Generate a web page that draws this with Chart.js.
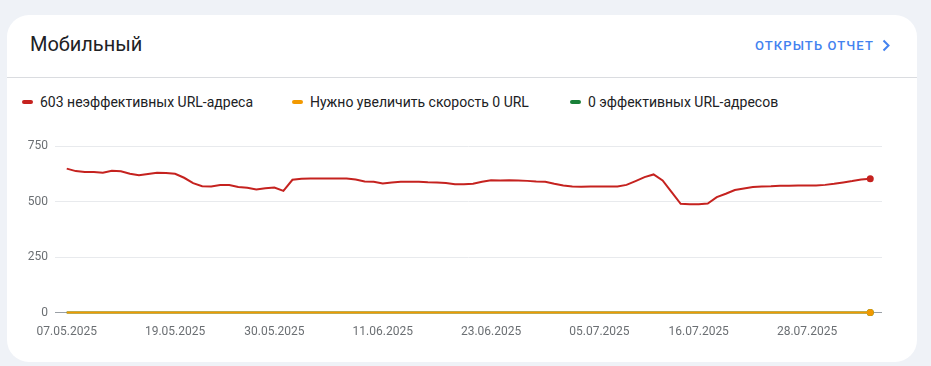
<!DOCTYPE html>
<html lang="ru">
<head>
<meta charset="utf-8">
<script src="https://cdn.jsdelivr.net/npm/chart.js@4.4.1/dist/chart.umd.min.js"></script>
<style>
  html, body { margin: 0; padding: 0; }
  body { width: 931px; height: 366px; background: #eff2f7; font-family: Roboto, "Noto Sans", sans-serif; position: relative; overflow: hidden; }
  .card { position: absolute; left: 7px; top: 15px; width: 910px; height: 347px; background: #fff; border-radius: 22px; }
  .title { position: absolute; left: 30px; top: 32px; font-size: 20px; line-height: 24px; color: #202124; }
  .open-report { position: absolute; left: 755px; top: 37px; font-size: 13px; line-height: 18px; font-weight: 500; letter-spacing: 1.1px; color: #4382ef; white-space: nowrap; }
  .open-report svg { position: absolute; left: 127px; top: 2px; }
  .divider { position: absolute; left: 7px; top: 77px; width: 910px; height: 1px; background: #dadce0; }
  .legend-item { position: absolute; top: 93px; font-size: 14px; line-height: 18px; color: #202124; white-space: nowrap; }
  .legend-item .mark { position: absolute; left: 0; top: 7px; width: 11px; height: 4px; border-radius: 2px; }
  .legend-item span { position: absolute; left: 18px; top: 0; }
  #wrap { position: absolute; left: 0; top: 130px; width: 931px; height: 236px; }
</style>
</head>
<body>
<div class="card"></div>
<div class="title">Мобильный</div>
<div class="open-report">ОТКРЫТЬ ОТЧЕТ
  <svg width="8" height="13" viewBox="0 0 8 13"><path d="M1.5 1.5 L6.5 6.5 L1.5 11.5" fill="none" stroke="#4382ef" stroke-width="2"/></svg>
</div>
<div class="divider"></div>
<div id="legend"></div>
<div id="wrap"><canvas id="chart"></canvas></div>

<script>
// ===== данные =====
const startDate = new Date(2025, 4, 7);   // 07.05.2025
const dayCount = 90;                        // до 04.08.2025

const poorUrls = [
  648, 637, 633, 633, 630, 639, 636, 625, 618, 624,
  630, 628, 625, 607, 583, 569, 568, 574, 574, 565,
  562, 554, 560, 563, 548, 598, 603, 604, 604, 604,
  604, 604, 599, 590, 589, 581, 586, 589, 589, 589,
  587, 586, 583, 578, 578, 580, 589, 596, 595, 596,
  595, 593, 590, 589, 580, 572, 568, 566, 568, 568,
  568, 568, 575, 592, 610, 622, 595, 542, 490, 488,
  488, 491, 520, 535, 552, 559, 565, 568, 569, 571,
  571, 572, 572, 572, 575, 580, 586, 592, 599, 603
];
const needsImprovementUrls = new Array(dayCount).fill(0);
const goodUrls = new Array(dayCount).fill(0);

const tickLabels = ['07.05.2025', '19.05.2025', '30.05.2025', '11.06.2025', '23.06.2025', '05.07.2025', '16.07.2025', '28.07.2025'];
const yTicks = [0, 250, 500, 750];

const seriesNames = ['603 неэффективных URL-адреса', 'Нужно увеличить скорость 0 URL', '0 эффективных URL-адресов'];
const seriesColors = ['#c5221f', '#f29900', '#188038'];
const legendLeft = [22, 292, 570];

// подписи по дням
function fmt(d) {
  const dd = String(d.getDate()).padStart(2, '0');
  const mm = String(d.getMonth() + 1).padStart(2, '0');
  return dd + '.' + mm + '.' + d.getFullYear();
}
const dates = [];
for (let i = 0; i < dayCount; i++) {
  const d = new Date(startDate);
  d.setDate(d.getDate() + i);
  dates.push(fmt(d));
}
const tickIdx = tickLabels.map(l => dates.indexOf(l));

// легенда
const legend = document.getElementById('legend');
seriesNames.forEach((name, i) => {
  const item = document.createElement('div');
  item.className = 'legend-item';
  item.style.left = legendLeft[i] + 'px';
  item.innerHTML = '<div class="mark" style="background:' + seriesColors[i] + '"></div><span>' + name + '</span>';
  legend.appendChild(item);
});

// зелёная линия лежит под оранжевой, красная сверху
const drawOrder = [1, 2, 3];
const lineWidths = [2, 2, 2];

function makeSet(values, i) {
  const last = values.length - 1;
  return {
    label: seriesNames[i],
    data: values.map((v, k) => ({ x: k, y: v })),
    order: drawOrder[i],
    clip: false,
    borderColor: seriesColors[i],
    backgroundColor: seriesColors[i],
    borderWidth: lineWidths[i],
    tension: 0,
    pointRadius: ctx => ctx.dataIndex === last ? 3.5 : 0,
    pointBorderWidth: 0,
    pointHoverRadius: 0
  };
}

new Chart(document.getElementById('chart').getContext('2d'), {
  type: 'line',
  data: {
    datasets: [
      makeSet(poorUrls, 0),
      makeSet(needsImprovementUrls, 1),
      makeSet(goodUrls, 2)
    ]
  },
  options: {
    responsive: true,
    maintainAspectRatio: false,
    animation: false,
    layout: { padding: { left: 0, right: 49, top: 16, bottom: 23 } },
    plugins: { legend: { display: false }, tooltip: { enabled: false } },
    scales: {
      x: {
        type: 'linear',
        min: -1.3,
        max: 90.3,
        grid: { display: false },
        border: { display: false },
        afterBuildTicks: s => { s.ticks = tickIdx.map(v => ({ value: v })); },
        ticks: {
          autoSkip: false,
          maxRotation: 0,
          padding: 4,
          color: '#6b6f73',
          font: { family: 'Roboto', size: 12 },
          callback: v => dates[v]
        }
      },
      y: {
        min: 0,
        max: 750,
        afterFit: s => { s.width = 55; },
        afterBuildTicks: s => { s.ticks = yTicks.map(v => ({ value: v })); },
        grid: {
          drawTicks: false,
          color: ctx => ctx.tick && ctx.tick.value === 0 ? '#9aa0a6' : '#e8eaed'
        },
        border: { display: false },
        ticks: {
          padding: 7,
          color: '#6b6f73',
          font: { family: 'Roboto', size: 12 }
        }
      }
    }
  }
});
</script>
</body>
</html>
